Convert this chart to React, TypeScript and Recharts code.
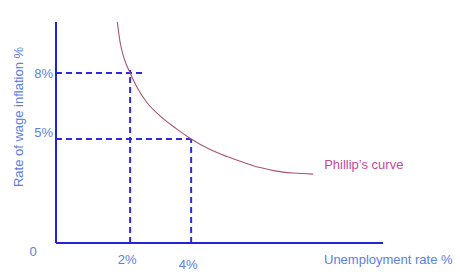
import React from 'react';
import { LineChart, Line, XAxis, YAxis, ReferenceLine } from 'recharts';

// Phillips curve (x: unemployment %, y: wage inflation %)
const curveX = [1.58, 1.67, 1.8, 2.0, 2.23, 2.55, 2.98, 3.5, 4.0, 4.62, 5.18, 5.77, 6.26, 6.75, 7.34, 8.0];
const curveY = [10.32, 9.41, 8.68, 8.0, 7.34, 6.66, 6.05, 5.48, 5.0, 4.52, 4.2, 3.91, 3.7, 3.55, 3.45, 3.4];

const xTicks = [2, 4];
const xTickLabels = ['2%', '4%'];
const yTicks = [5, 8];
const yTickLabels = ['5%', '8%'];
const originLabel = '0';

// the sketch is not drawn to scale, so the axes start a little off zero
const xDomain = [-0.43, 10.29];
const yDomain = [0.27, 10.32];

// dashed guide lines
const guideHigh = { x: 2, y: 8, xEnd: 2.42, yTop: 8.14 };
const guideLow = { x: 4, y: 5 };

const data = curveX.map((x, i) => ({ x, y: curveY[i] }));

const AXIS = '#2323d6';
const DASH = '#2b2bdc';
const TEXT = '#5b80e4';
const CURVE = '#a9546f';
const CURVE_TEXT = '#c44a9c';
const FONT = '"Liberation Sans", Arial, sans-serif';
const FS = 13;

const XTick = (props: any) => {
  const { x, y, payload } = props;
  const i = xTicks.indexOf(payload.value);
  const dy = payload.value === 4 ? 22 : 17;
  return (
    <text x={x - 3} y={y - 8 + dy + 4} textAnchor="middle" fill={TEXT} fontSize={FS} fontFamily={FONT}>
      {xTickLabels[i]}
    </text>
  );
};

const YTick = (props: any) => {
  const { y, payload } = props;
  const i = yTicks.indexOf(payload.value);
  const off = payload.value === 5 ? -6 : 0;
  return (
    <text x={53} y={y + off + 4.5} textAnchor="end" fill={TEXT} fontSize={FS} fontFamily={FONT}>
      {yTickLabels[i]}
    </text>
  );
};

const CurveLabel = (props: any) => {
  const { x, y, index } = props;
  if (index !== data.length - 1) return null;
  return (
    <text x={x + 11} y={y - 5.5} fill={CURVE_TEXT} fontSize={FS} fontFamily={FONT}>
      Phillip’s curve
    </text>
  );
};

export default function App() {
  return (
    <div style={{ position: 'absolute', left: 0, top: 0, width: 460, height: 275, background: '#fff' }}>
      <LineChart width={460} height={275} data={data} margin={{ top: 22, right: 77, left: 0, bottom: 0 }}>
        <XAxis
          dataKey="x"
          type="number"
          domain={xDomain}
          allowDataOverflow
          ticks={xTicks}
          tick={<XTick />}
          tickLine={false}
          height={32}
          axisLine={{ stroke: AXIS, strokeWidth: 2 }}
          label={{
            content: (p: any) => (
              <text
                x={p.viewBox.x + p.viewBox.width - 59}
                y={p.viewBox.y + 21}
                fill={TEXT}
                fontSize={FS}
                fontFamily={FONT}
              >
                Unemployment rate %
              </text>
            ),
          }}
        />
        <YAxis
          type="number"
          domain={yDomain}
          allowDataOverflow
          ticks={yTicks}
          tick={<YTick />}
          tickLine={false}
          width={56}
          axisLine={{ stroke: AXIS, strokeWidth: 2 }}
          label={{
            content: (p: any) => (
              <g>
                <text
                  x={18}
                  y={117}
                  transform="rotate(-90 18 117)"
                  textAnchor="middle"
                  dominantBaseline="central"
                  fill={TEXT}
                  fontSize={FS}
                  fontFamily={FONT}
                >
                  Rate of wage inflation %
                </text>
                <text
                  x={33}
                  y={p.viewBox.y + p.viewBox.height + 13}
                  textAnchor="middle"
                  fill={TEXT}
                  fontSize={FS}
                  fontFamily={FONT}
                >
                  {originLabel}
                </text>
              </g>
            ),
          }}
        />
        <ReferenceLine
          segment={[{ x: xDomain[0], y: guideHigh.y }, { x: guideHigh.xEnd, y: guideHigh.y }]}
          stroke={DASH}
          strokeWidth={2}
          strokeDasharray="6 4"
        />
        <ReferenceLine
          segment={[{ x: guideHigh.x, y: yDomain[0] }, { x: guideHigh.x, y: guideHigh.yTop }]}
          stroke={DASH}
          strokeWidth={2}
          strokeDasharray="6 4"
        />
        <ReferenceLine
          segment={[{ x: xDomain[0], y: guideLow.y }, { x: guideLow.x, y: guideLow.y }]}
          stroke={DASH}
          strokeWidth={2}
          strokeDasharray="6 4"
        />
        <ReferenceLine
          segment={[{ x: guideLow.x, y: yDomain[0] }, { x: guideLow.x, y: guideLow.y }]}
          stroke={DASH}
          strokeWidth={2}
          strokeDasharray="6 4"
        />
        <Line
          dataKey="y"
          type="monotone"
          stroke={CURVE}
          strokeWidth={1.1}
          dot={false}
          activeDot={false}
          label={<CurveLabel />}
          isAnimationActive={false}
        />
      </LineChart>
    </div>
  );
}
